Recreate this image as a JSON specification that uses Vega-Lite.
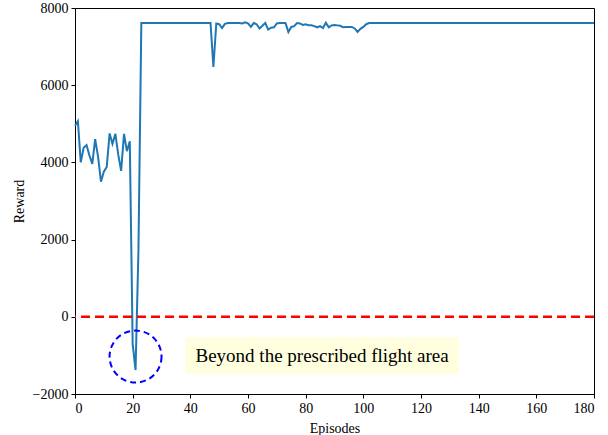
{
  "$schema": "https://vega.github.io/schema/vega-lite/v6.json",
  "autosize": "none",
  "width": 519,
  "height": 386,
  "padding": {"left": 75, "top": 8, "right": 14, "bottom": 41},
  "background": "white",
  "config": {
    "font": "Liberation Serif",
    "view": {"stroke": "black", "strokeWidth": 1},
    "axis": {
      "grid": false,
      "domainColor": "black",
      "tickColor": "black",
      "labelColor": "black",
      "titleColor": "black",
      "labelFont": "Liberation Serif",
      "titleFont": "Liberation Serif",
      "labelFontSize": 14,
      "titleFontSize": 14,
      "titleFontWeight": "normal",
      "tickSize": 4,
      "labelPadding": 3
    }
  },
  "datasets": {
    "reward": [
      {"episode": 0, "reward": 4950}, {"episode": 1, "reward": 5070}, {"episode": 2, "reward": 4000},
      {"episode": 3, "reward": 4380}, {"episode": 4, "reward": 4450}, {"episode": 5, "reward": 4180},
      {"episode": 6, "reward": 3960}, {"episode": 7, "reward": 4600}, {"episode": 8, "reward": 4150},
      {"episode": 9, "reward": 3500}, {"episode": 10, "reward": 3760}, {"episode": 11, "reward": 3880},
      {"episode": 12, "reward": 4750}, {"episode": 13, "reward": 4480}, {"episode": 14, "reward": 4740},
      {"episode": 15, "reward": 4200}, {"episode": 16, "reward": 3780}, {"episode": 17, "reward": 4740},
      {"episode": 18, "reward": 4290}, {"episode": 19, "reward": 4550}, {"episode": 20, "reward": -700},
      {"episode": 21, "reward": -1380}, {"episode": 22, "reward": 1700}, {"episode": 23, "reward": 7610},
      {"episode": 24, "reward": 7610}, {"episode": 25, "reward": 7610}, {"episode": 26, "reward": 7610},
      {"episode": 27, "reward": 7610}, {"episode": 28, "reward": 7610}, {"episode": 29, "reward": 7610},
      {"episode": 30, "reward": 7610}, {"episode": 31, "reward": 7610}, {"episode": 32, "reward": 7610},
      {"episode": 33, "reward": 7610}, {"episode": 34, "reward": 7610}, {"episode": 35, "reward": 7610},
      {"episode": 36, "reward": 7610}, {"episode": 37, "reward": 7610}, {"episode": 38, "reward": 7610},
      {"episode": 39, "reward": 7610}, {"episode": 40, "reward": 7610}, {"episode": 41, "reward": 7610},
      {"episode": 42, "reward": 7610}, {"episode": 43, "reward": 7610}, {"episode": 44, "reward": 7610},
      {"episode": 45, "reward": 7610}, {"episode": 46, "reward": 7610}, {"episode": 47, "reward": 7610},
      {"episode": 48, "reward": 6470}, {"episode": 49, "reward": 7600}, {"episode": 50, "reward": 7580},
      {"episode": 51, "reward": 7480}, {"episode": 52, "reward": 7590}, {"episode": 53, "reward": 7610},
      {"episode": 54, "reward": 7610}, {"episode": 55, "reward": 7610}, {"episode": 56, "reward": 7610},
      {"episode": 57, "reward": 7610}, {"episode": 58, "reward": 7600}, {"episode": 59, "reward": 7630},
      {"episode": 60, "reward": 7600}, {"episode": 61, "reward": 7510}, {"episode": 62, "reward": 7610},
      {"episode": 63, "reward": 7580}, {"episode": 64, "reward": 7470}, {"episode": 65, "reward": 7540},
      {"episode": 66, "reward": 7610}, {"episode": 67, "reward": 7440}, {"episode": 68, "reward": 7490},
      {"episode": 69, "reward": 7500}, {"episode": 70, "reward": 7600}, {"episode": 71, "reward": 7610},
      {"episode": 72, "reward": 7610}, {"episode": 73, "reward": 7610}, {"episode": 74, "reward": 7380},
      {"episode": 75, "reward": 7510}, {"episode": 76, "reward": 7530}, {"episode": 77, "reward": 7610},
      {"episode": 78, "reward": 7600}, {"episode": 79, "reward": 7560}, {"episode": 80, "reward": 7580},
      {"episode": 81, "reward": 7550}, {"episode": 82, "reward": 7550}, {"episode": 83, "reward": 7530},
      {"episode": 84, "reward": 7500}, {"episode": 85, "reward": 7530}, {"episode": 86, "reward": 7480},
      {"episode": 87, "reward": 7620}, {"episode": 88, "reward": 7500}, {"episode": 89, "reward": 7550},
      {"episode": 90, "reward": 7560}, {"episode": 91, "reward": 7550}, {"episode": 92, "reward": 7540},
      {"episode": 93, "reward": 7500}, {"episode": 94, "reward": 7510}, {"episode": 95, "reward": 7510},
      {"episode": 96, "reward": 7510}, {"episode": 97, "reward": 7470}, {"episode": 98, "reward": 7380},
      {"episode": 99, "reward": 7460}, {"episode": 100, "reward": 7510}, {"episode": 101, "reward": 7580},
      {"episode": 102, "reward": 7610}, {"episode": 103, "reward": 7610}, {"episode": 104, "reward": 7610},
      {"episode": 105, "reward": 7610}, {"episode": 106, "reward": 7610}, {"episode": 107, "reward": 7610},
      {"episode": 108, "reward": 7610}, {"episode": 109, "reward": 7610}, {"episode": 110, "reward": 7610},
      {"episode": 111, "reward": 7610}, {"episode": 112, "reward": 7610}, {"episode": 113, "reward": 7610},
      {"episode": 114, "reward": 7610}, {"episode": 115, "reward": 7610}, {"episode": 116, "reward": 7610},
      {"episode": 117, "reward": 7610}, {"episode": 118, "reward": 7610}, {"episode": 119, "reward": 7610},
      {"episode": 120, "reward": 7610}, {"episode": 121, "reward": 7610}, {"episode": 122, "reward": 7610},
      {"episode": 123, "reward": 7610}, {"episode": 124, "reward": 7610}, {"episode": 125, "reward": 7610},
      {"episode": 126, "reward": 7610}, {"episode": 127, "reward": 7610}, {"episode": 128, "reward": 7610},
      {"episode": 129, "reward": 7610}, {"episode": 130, "reward": 7610}, {"episode": 131, "reward": 7610},
      {"episode": 132, "reward": 7610}, {"episode": 133, "reward": 7610}, {"episode": 134, "reward": 7610},
      {"episode": 135, "reward": 7610}, {"episode": 136, "reward": 7610}, {"episode": 137, "reward": 7610},
      {"episode": 138, "reward": 7610}, {"episode": 139, "reward": 7610}, {"episode": 140, "reward": 7610},
      {"episode": 141, "reward": 7610}, {"episode": 142, "reward": 7610}, {"episode": 143, "reward": 7610},
      {"episode": 144, "reward": 7610}, {"episode": 145, "reward": 7610}, {"episode": 146, "reward": 7610},
      {"episode": 147, "reward": 7610}, {"episode": 148, "reward": 7610}, {"episode": 149, "reward": 7610},
      {"episode": 150, "reward": 7610}, {"episode": 151, "reward": 7610}, {"episode": 152, "reward": 7610},
      {"episode": 153, "reward": 7610}, {"episode": 154, "reward": 7610}, {"episode": 155, "reward": 7610},
      {"episode": 156, "reward": 7610}, {"episode": 157, "reward": 7610}, {"episode": 158, "reward": 7610},
      {"episode": 159, "reward": 7610}, {"episode": 160, "reward": 7610}, {"episode": 161, "reward": 7610},
      {"episode": 162, "reward": 7610}, {"episode": 163, "reward": 7610}, {"episode": 164, "reward": 7610},
      {"episode": 165, "reward": 7610}, {"episode": 166, "reward": 7610}, {"episode": 167, "reward": 7610},
      {"episode": 168, "reward": 7610}, {"episode": 169, "reward": 7610}, {"episode": 170, "reward": 7610},
      {"episode": 171, "reward": 7610}, {"episode": 172, "reward": 7610}, {"episode": 173, "reward": 7610},
      {"episode": 174, "reward": 7610}, {"episode": 175, "reward": 7610}, {"episode": 176, "reward": 7610},
      {"episode": 177, "reward": 7610}, {"episode": 178, "reward": 7610}, {"episode": 179, "reward": 7610},
      {"episode": 180, "reward": 7610}
    ],
    "zero": [{"level": 0}],
    "highlight": [{"episode": 21, "reward": -1030}],
    "note": [{"x0": 38.2, "x1": 133.2, "y0": -529, "y1": -1481, "xc": 85.7, "yc": -1005, "label": "Beyond the prescribed flight area"}]
  },
  "layer": [
    {
      "data": {"name": "reward"},
      "mark": {"type": "line", "color": "#1f77b4", "strokeWidth": 2},
      "encoding": {
        "x": {
          "field": "episode", "type": "quantitative", "title": "Episodes",
          "scale": {"domain": [0, 180], "nice": false},
          "axis": {"values": [0, 20, 40, 60, 80, 100, 120, 140, 160, 180], "format": "d", "labelFont": "Liberation Serif", "titleFont": "Liberation Serif", "titlePadding": 6}
        },
        "y": {
          "field": "reward", "type": "quantitative", "title": "Reward",
          "scale": {"domain": [-2000, 8000], "nice": false},
          "axis": {"values": [-2000, 0, 2000, 4000, 6000, 8000], "format": "d", "labelFont": "Liberation Serif", "titleFont": "Liberation Serif", "titlePadding": 6}
        }
      }
    },
    {
      "data": {"name": "zero"},
      "mark": {"type": "rule", "color": "#ff0000", "strokeWidth": 2.5, "strokeDash": [9, 5]},
      "encoding": {"y": {"field": "level", "type": "quantitative"}}
    },
    {
      "data": {"name": "highlight"},
      "mark": {"type": "point", "shape": "circle", "filled": false, "size": 2700, "stroke": "#0000ff", "strokeWidth": 2, "strokeDash": [6, 4], "opacity": 1},
      "encoding": {
        "x": {"field": "episode", "type": "quantitative"},
        "y": {"field": "reward", "type": "quantitative"}
      }
    },
    {
      "data": {"name": "note"},
      "mark": {"type": "rect", "color": "#ffffdf"},
      "encoding": {
        "x": {"field": "x0", "type": "quantitative"},
        "x2": {"field": "x1"},
        "y": {"field": "y0", "type": "quantitative"},
        "y2": {"field": "y1"}
      }
    },
    {
      "data": {"name": "note"},
      "mark": {"type": "text", "font": "Liberation Serif", "fontSize": 19, "color": "black", "align": "center", "baseline": "middle"},
      "encoding": {
        "x": {"field": "xc", "type": "quantitative"},
        "y": {"field": "yc", "type": "quantitative"},
        "text": {"field": "label"}
      }
    }
  ]
}
